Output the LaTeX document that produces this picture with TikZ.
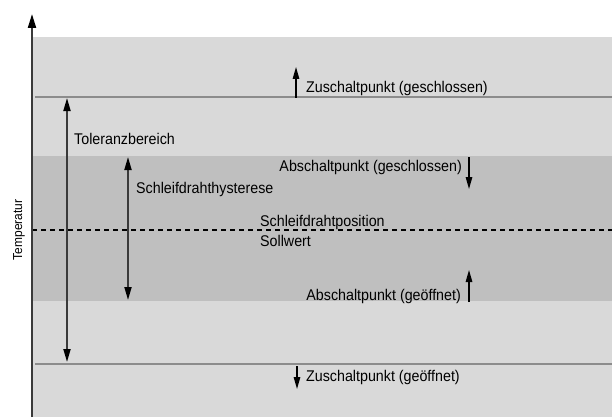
\documentclass[tikz,border=0pt]{standalone}
\usepackage{fontspec}
\setmainfont{Liberation Sans}[FakeStretch=0.92]
\usetikzlibrary{arrows.meta}
\definecolor{bandlight}{HTML}{D9D9D9}
\definecolor{banddark}{HTML}{BFBFBF}
\definecolor{lvlline}{HTML}{8C8C8C}
\definecolor{axisgray}{HTML}{3A3A3A}
\tikzset{
  lbl/.style={font=\fontsize{15.5}{18}\selectfont, inner sep=0pt, anchor=base west, text=black},
  levelline/.style={draw=lvlline, line width=1.2pt},
  dimtip/.style={Triangle[length=12pt,width=7pt,fill=black,color=black]},
  dimarrow/.style={draw=axisgray, line width=1.8pt, {Triangle[length=12pt,width=7pt]}-{Triangle[length=12pt,width=7pt]}},
  markarrow/.style={draw=black, line width=1.3pt, -{Triangle[length=12pt,width=6.5pt]}},
}
\begin{document}
\begin{tikzpicture}[x=1pt,y=-1pt]
\useasboundingbox (0,0) rectangle (612,417);
% bands
\fill[bandlight] (32,37) rectangle (612,417);
\fill[banddark] (32,156) rectangle (612,301);
% level lines
\coordinate (zgL) at (35,97); \coordinate (zgR) at (612,97);
\coordinate (zoL) at (35,364); \coordinate (zoR) at (612,364);
\draw[levelline] (zgL) -- (zgR);
\draw[levelline] (zoL) -- (zoR);
% dashed setpoint line
\coordinate (spL) at (32,230); \coordinate (spR) at (612,230);
\draw[black, line width=1.2pt, dash pattern=on 5pt off 4pt] (spL) -- (spR);
% axis
\coordinate (axB) at (32,417); \coordinate (axT) at (32,14);
\draw[axisgray, line width=2pt, -{Triangle[length=14pt,width=8pt,color=black]}] (axB) -- (axT);
\node[lbl, font=\fontsize{13}{15}\selectfont, anchor=center, rotate=90] (temp) at (19,230) {Temperatur};
% Toleranzbereich
\coordinate (tbT) at (67,98); \coordinate (tbB) at (67,362);
\draw[dimarrow, {Triangle[length=13pt,width=7pt,color=black]}-{Triangle[length=13pt,width=7pt,color=black]}] (tbT) -- (tbB);
\node[lbl] (tb) at (74,144) {Toleranzbereich};
% Schleifdrahthysterese
\coordinate (shT) at (128,157); \coordinate (shB) at (128,300);
\draw[dimarrow, {Triangle[length=13pt,width=7pt,color=black]}-{Triangle[length=13pt,width=7pt,color=black]}] (shT) -- (shB);
\node[lbl] (sh) at (136,193) {Schleifdrahthysterese};
% Zuschaltpunkt geschlossen
\coordinate (zga) at (296,98) ; \coordinate (zgb) at (296,67);
\draw[markarrow] (zga) -- (zgb);
\node[lbl] (zg) at (306,93) {Zuschaltpunkt (geschlossen)};
% Abschaltpunkt geschlossen
\coordinate (aga) at (469,157); \coordinate (agb) at (469,189);
\draw[markarrow] (aga) -- (agb);
\node[lbl, anchor=base east] (ag) at (462,171.5) {Abschaltpunkt (geschlossen)};
% Schleifdrahtposition / Sollwert
\node[lbl] (sp) at (260,226) {Schleifdrahtposition};
\node[lbl] (sw) at (260,246) {Sollwert};
% Abschaltpunkt geoeffnet
\coordinate (aoa) at (469,302); \coordinate (aob) at (469,270);
\draw[markarrow] (aoa) -- (aob);
\node[lbl, anchor=base east] (ao) at (461,300) {Abschaltpunkt (geöffnet)};
% Zuschaltpunkt geoeffnet
\coordinate (zoa) at (297,366); \coordinate (zob) at (297,389);
\draw[markarrow] (zoa) -- (zob);
\node[lbl] (zo) at (306,381) {Zuschaltpunkt (geöffnet)};
\end{tikzpicture}
\end{document}
